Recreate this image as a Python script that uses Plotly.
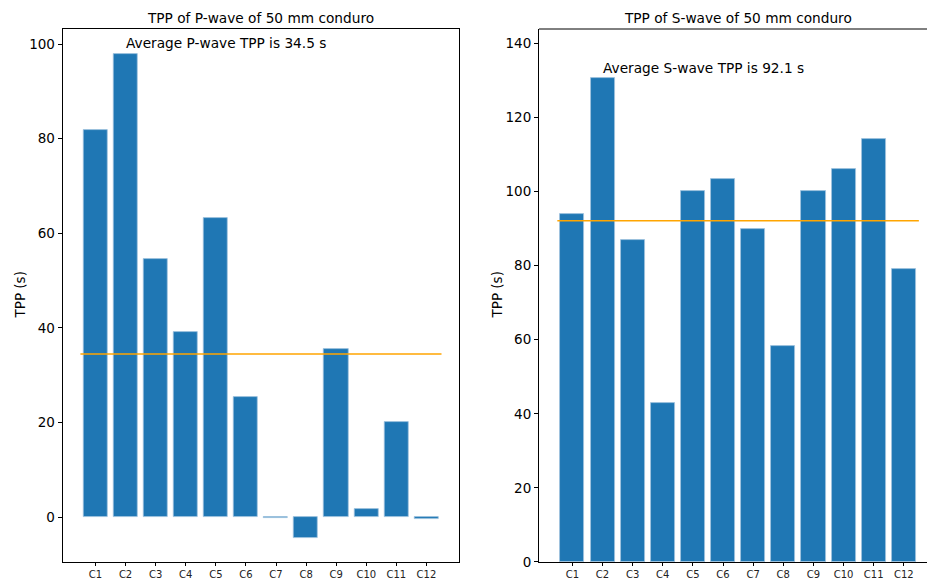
import plotly.graph_objects as go

categories = ["C1", "C2", "C3", "C4", "C5", "C6", "C7", "C8", "C9", "C10", "C11", "C12"]
p_wave = [81.8, 97.9, 54.5, 39.1, 63.2, 25.4, -0.3, -4.4, 35.5, 1.6, 20.1, -0.5]
s_wave = [93.9, 130.7, 86.9, 43.0, 100.1, 103.4, 89.8, 58.4, 100.1, 106.1, 114.2, 79.0]

p_mean = sum(p_wave) / len(p_wave)
s_mean = sum(s_wave) / len(s_wave)

BLUE = "#1f77b4"
ORANGE = "#FFA500"
FONT = "DejaVu Sans"

fig = go.Figure()
xs = list(range(len(categories)))

for vals, xa, ya in [(p_wave, "x", "y"), (s_wave, "x2", "y2")]:
    fig.add_trace(go.Bar(x=xs, y=vals, width=0.8, marker=dict(color=BLUE, line=dict(color="#9fc3de", width=0.8)),
                         xaxis=xa, yaxis=ya, showlegend=False))

for mean, xa, ya in [(p_mean, "x", "y"), (s_mean, "x2", "y2")]:
    fig.add_trace(go.Scatter(x=[-0.5, len(categories) - 0.5], y=[mean, mean], mode="lines",
                             line=dict(color=ORANGE, width=1.5), xaxis=xa, yaxis=ya, showlegend=False))

axis_common = dict(showline=True, linecolor="black", linewidth=1, ticks="outside", tickcolor="black",
                   showgrid=False, zeroline=False, automargin=False)

xtickfont = dict(size=10, family=FONT, color="#222222")
ytickfont = dict(size=13.5, family=FONT, color="black")
TXT = 13.7

fig.update_layout(
    width=927, height=579, margin=dict(l=0, r=0, t=0, b=0, autoexpand=False),
    plot_bgcolor="white", paper_bgcolor="white", bargap=0,
    font=dict(family=FONT, color="black"),
    xaxis=dict(domain=[0.0676, 0.4951], range=[-1.09, 12.08], tickmode="array", tickvals=xs,
               ticktext=categories, ticklen=3, tickfont=xtickfont, mirror=True, **axis_common),
    yaxis=dict(domain=[0.0294, 0.9499], range=[-9.5, 103.2], tickvals=[0, 20, 40, 60, 80, 100],
               ticklen=4, mirror=True, tickfont=ytickfont, **axis_common),
    xaxis2=dict(domain=[0.5814, 1.0], range=[-1.11, 11.77], tickmode="array", tickvals=xs,
                ticktext=categories, ticklen=3, tickfont=xtickfont, anchor="y2", **axis_common),
    yaxis2=dict(domain=[0.0294, 0.9499], range=[0, 143.9], tickvals=[0, 20, 40, 60, 80, 100, 120, 140],
                ticklen=4, anchor="x2", tickfont=ytickfont, **axis_common),
)

# top spine of right plot (right spine falls outside the cropped picture)
fig.add_shape(type="line", xref="x2 domain", yref="y2 domain", x0=0, x1=1, y0=1, y1=1,
              line=dict(color="black", width=1))

annotations = [
    dict(text="TPP of P-wave of 50 mm conduro", xref="x domain", yref="paper", x=0.5, y=1 - 18 / 579,
         xanchor="center", yanchor="middle", showarrow=False, font=dict(size=TXT, family=FONT, color="black")),
    dict(text="TPP of S-wave of 50 mm conduro", xref="paper", yref="paper", x=(539 + 936) / 2 / 927, y=1 - 18 / 579,
         xanchor="center", yanchor="middle", showarrow=False, font=dict(size=TXT, family=FONT, color="black")),
    dict(text="TPP (s)", xref="paper", yref="y domain", x=20 / 927, y=0.5, textangle=-90,
         xanchor="center", yanchor="middle", showarrow=False, font=dict(size=13.5, family=FONT, color="black")),
    dict(text="TPP (s)", xref="paper", yref="y2 domain", x=497 / 927, y=0.5, textangle=-90,
         xanchor="center", yanchor="middle", showarrow=False, font=dict(size=13.5, family=FONT, color="black")),
    dict(text=f"Average P-wave TPP is {p_mean:.1f} s", xref="x", yref="y", x=1, y=max(p_wave) + 1,
         xanchor="left", yanchor="bottom", yshift=-4, xshift=-2, showarrow=False, font=dict(size=TXT, family=FONT, color="black")),
    dict(text=f"Average S-wave TPP is {s_mean:.1f} s", xref="x2", yref="y2", x=1, y=max(s_wave) + 1,
         xanchor="left", yanchor="bottom", yshift=-4, xshift=-2, showarrow=False, font=dict(size=TXT, family=FONT, color="black")),
]
fig.update_layout(annotations=annotations)

fig.write_html("out.html")
